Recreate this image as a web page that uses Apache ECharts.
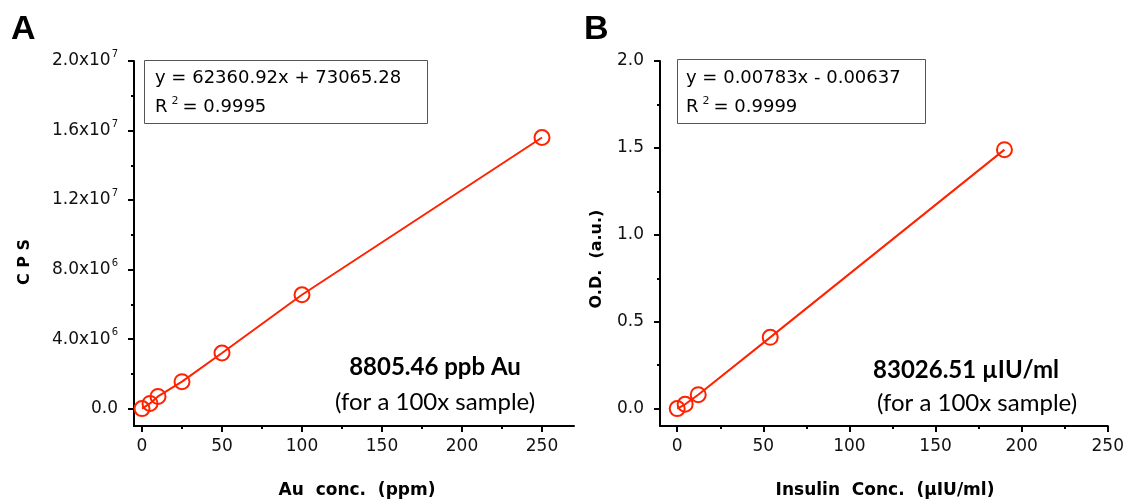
<!DOCTYPE html>
<html><head><meta charset="utf-8">
<script src="https://cdn.jsdelivr.net/npm/echarts@6/dist/echarts.min.js"></script>
<style>html,body{margin:0;padding:0;background:#fff}#c{width:1127px;height:501px}</style>
</head><body><div id="c"></div>
<script>
// Panel A data
const auConc = [0, 5, 10, 25, 50, 100, 250];
const cps = [0.0, 0.3e6, 0.7e6, 1.55e6, 3.2e6, 6.55e6, 15.6e6];
const aXTicks = [0, 50, 100, 150, 200, 250];
const aXMinor = [25, 75, 125, 175, 225];
const aYTicks = [0, 4e6, 8e6, 1.2e7, 1.6e7, 2.0e7];
const aYMinor = [2e6, 6e6, 1e7, 1.4e7, 1.8e7];
// Panel B data
const insulin = [0, 4.6, 12.2, 54, 190];
const od = [0, 0.025, 0.08, 0.41, 1.49];
const bXTicks = [0, 50, 100, 150, 200, 250];
const bXMinor = [25, 75, 125, 175, 225];
const bYTicks = [0, 0.5, 1.0, 1.5, 2.0];
const bYMinor = [0.25, 0.75, 1.25, 1.75];

const RED = '#ff2200';
const TICKFONT = 'DejaVu Sans';
const axisLineStyle = {color: '#000', width: 2};

function xAx(grid, min, max, vals, minor) {
  return [{
    type: 'value', gridIndex: grid, min: min, max: max, position: 'bottom',
    axisLine: {show: true, onZero: false, lineStyle: axisLineStyle},
    axisTick: {show: true, length: 6, lineStyle: {width: 2, color: '#000'}, customValues: vals},
    axisLabel: {show: true, customValues: vals, margin: 12, fontFamily: TICKFONT, fontSize: 17, color: '#111'},
    splitLine: {show: false}
  }, {
    type: 'value', gridIndex: grid, min: min, max: max, position: 'bottom',
    axisLine: {show: false, onZero: false},
    axisTick: {show: true, length: 3, lineStyle: {width: 2, color: '#000'}, customValues: minor},
    axisLabel: {show: false}, splitLine: {show: false}
  }];
}
function yAx(grid, min, max, vals, minor, fmt) {
  return [{
    type: 'value', gridIndex: grid, min: min, max: max, position: 'left',
    axisLine: {show: true, onZero: false, lineStyle: axisLineStyle},
    axisTick: {show: true, length: 6, lineStyle: {width: 2, color: '#000'}, customValues: vals},
    axisLabel: {show: true, customValues: vals, margin: 16, fontFamily: TICKFONT, fontSize: 17, color: '#111',
      formatter: fmt,
      rich: {sup: {fontSize: 10, fontFamily: TICKFONT, color: '#111', verticalAlign: 'top', padding: [0, 0, 13, 1]}}},
    splitLine: {show: false}
  }, {
    type: 'value', gridIndex: grid, min: min, max: max, position: 'left',
    axisLine: {show: false, onZero: false},
    axisTick: {show: true, length: 3, lineStyle: {width: 2, color: '#000'}, customValues: minor},
    axisLabel: {show: false}, splitLine: {show: false}
  }];
}
function sciFmt(v) {
  if (v === 0) return '0.0';
  const e = Math.floor(Math.log10(v) + 1e-9);
  const m = v / Math.pow(10, e);
  return m.toFixed(1) + 'x10{sup|' + e + '}';
}
function oneDec(v) { return v.toFixed(1); }

const chart = echarts.init(document.getElementById('c'));
const txt = (x, y, text, font, extra) => ({
  type: 'text', x: x, y: y,
  style: Object.assign({text: text, fill: '#000', font: font, textAlign: 'left', textVerticalAlign: 'middle'}, extra || {})
});

const eqRich = {sup: {fontSize: 11, fontFamily: TICKFONT, fill: '#111', verticalAlign: 'top', padding: [0, 4, 12, 4]}};

chart.setOption({
  animation: false,
  grid: [
    {left: 134, top: 61, width: 440, height: 365},
    {left: 660, top: 61, width: 448, height: 365}
  ],
  xAxis: [].concat(xAx(0, -5, 270, aXTicks, aXMinor), xAx(1, -10, 250, bXTicks, bXMinor)),
  yAxis: [].concat(yAx(0, -1e6, 2e7, aYTicks, aYMinor, sciFmt), yAx(1, -0.1, 2.0, bYTicks, bYMinor, oneDec)),
  series: [{
    type: 'line', xAxisIndex: 0, yAxisIndex: 0,
    data: auConc.map((x, i) => [x, cps[i]]),
    symbol: 'circle', symbolSize: 15,
    lineStyle: {color: RED, width: 2},
    itemStyle: {color: 'rgba(255,255,255,0)', borderColor: RED, borderWidth: 2}
  }, {
    type: 'line', xAxisIndex: 2, yAxisIndex: 2,
    data: insulin.map((x, i) => [x, od[i]]),
    symbol: 'circle', symbolSize: 15,
    lineStyle: {color: RED, width: 2},
    itemStyle: {color: 'rgba(255,255,255,0)', borderColor: RED, borderWidth: 2}
  }],
  graphic: [
    txt(11, 30, 'A', 'bold 34px "Liberation Sans"'),
    txt(584, 30, 'B', 'bold 34px "Liberation Sans"'),
    {type: 'rect', shape: {x: 144.5, y: 60.5, width: 283, height: 63}, style: {fill: '#fff', stroke: '#555', lineWidth: 1}},
    {type: 'rect', shape: {x: 677.5, y: 59.5, width: 248, height: 64}, style: {fill: '#fff', stroke: '#555', lineWidth: 1}},
    txt(155, 78, 'y = 62360.92x + 73065.28', '18px "DejaVu Sans"'),
    txt(155, 107, 'R{sup|2}= 0.9995', '18px "DejaVu Sans"', {rich: eqRich}),
    txt(686, 78, 'y = 0.00783x - 0.00637', '18px "DejaVu Sans"'),
    txt(686, 107, 'R{sup|2}= 0.9999', '18px "DejaVu Sans"', {rich: eqRich}),
    txt(435, 367, '8805.46 ppb Au', 'bold 24px Lato', {textAlign: 'center'}),
    txt(435, 402, '(for a 100x sample)', '24px Lato', {textAlign: 'center'}),
    txt(966, 370, '83026.51 µIU/ml', 'bold 24px Lato', {textAlign: 'center'}),
    txt(977, 403, '(for a 100x sample)', '24px Lato', {textAlign: 'center'}),
    txt(357, 491, 'Au  conc.  (ppm)', 'bold 17px "DejaVu Sans"', {textAlign: 'center'}),
    txt(885, 491, 'Insulin  Conc.  (µIU/ml)', 'bold 17px "DejaVu Sans"', {textAlign: 'center'}),
    {type: 'text', x: 25, y: 262, rotation: Math.PI / 2,
     style: {text: 'C P S', fill: '#000', font: 'bold 16px "DejaVu Sans"', textAlign: 'center', textVerticalAlign: 'middle'}},
    {type: 'text', x: 597, y: 259, rotation: Math.PI / 2,
     style: {text: 'O.D.  (a.u.)', fill: '#000', font: 'bold 16px "DejaVu Sans"', textAlign: 'center', textVerticalAlign: 'middle'}}
  ]
});
</script></body></html>
